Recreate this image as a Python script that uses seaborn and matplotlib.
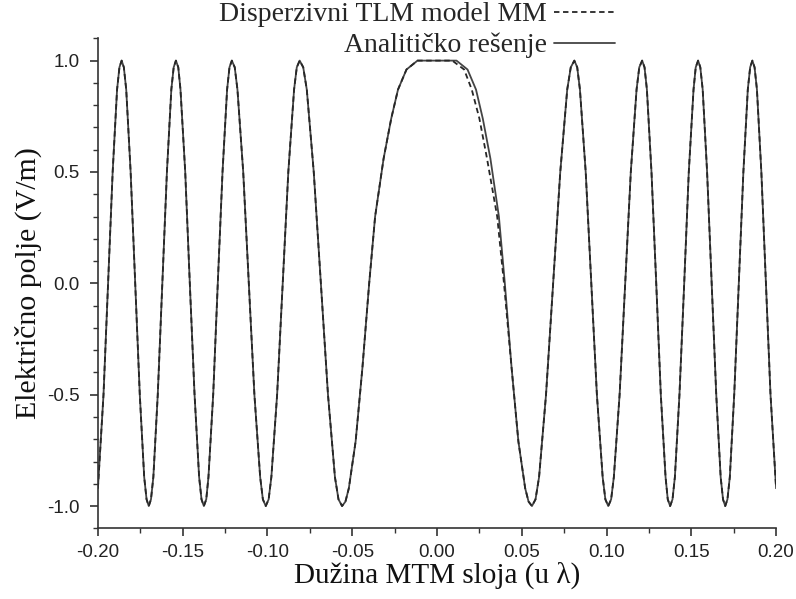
import numpy as np
import pandas as pd
import seaborn as sns
import matplotlib.pyplot as plt
from matplotlib.ticker import MultipleLocator

# values
# outer oscillations, left of the MTM layer
x_left = [-0.2000, -0.1967, -0.1940, -0.1913, -0.1887, -0.1873, -0.1860,
          -0.1847, -0.1833, -0.1807, -0.1780, -0.1753, -0.1727, -0.1713, -0.1700,
          -0.1687, -0.1673, -0.1647, -0.1620, -0.1593, -0.1567, -0.1553, -0.1540,
          -0.1526, -0.1513, -0.1485, -0.1458, -0.1430, -0.1403, -0.1389, -0.1375,
          -0.1361, -0.1348, -0.1320, -0.1293, -0.1265, -0.1238, -0.1224, -0.1210,
          -0.1193, -0.1177, -0.1143, -0.1110, -0.1077, -0.1043, -0.1027, -0.1010,
          -0.0993, -0.0977, -0.0943, -0.0910, -0.0877, -0.0843, -0.0827, -0.0810,
          -0.0789, -0.0768, -0.0727, -0.0685, -0.0643, -0.0602, -0.0581, -0.0560]
y_left = [-0.92, -0.50, 0.00, 0.50, 0.87, 0.97, 1.00,
          0.97, 0.87, 0.50, 0.00, -0.50, -0.87, -0.97, -1.00,
          -0.97, -0.87, -0.50, 0.00, 0.50, 0.87, 0.97, 1.00,
          0.97, 0.87, 0.50, 0.00, -0.50, -0.87, -0.97, -1.00,
          -0.97, -0.87, -0.50, 0.00, 0.50, 0.87, 0.97, 1.00,
          0.97, 0.87, 0.50, 0.00, -0.50, -0.87, -0.97, -1.00,
          -0.97, -0.87, -0.50, 0.00, 0.50, 0.87, 0.97, 1.00,
          0.97, 0.87, 0.50, 0.00, -0.50, -0.87, -0.97, -1.00]

# central lobe (inside the layer)
x_center = [-0.0540, -0.0520, -0.0480, -0.0440, -0.0400, -0.0365, -0.0315,
            -0.0270, -0.0230, -0.0180, -0.0115, 0.0000, 0.0115, 0.0180,
            0.0230, 0.0270, 0.0315, 0.0365, 0.0400, 0.0440, 0.0480,
            0.0520, 0.0540]
x_center_tlm = [-0.0540, -0.0520, -0.0480, -0.0440, -0.0400, -0.0365, -0.0315,
                -0.0270, -0.0230, -0.0180, -0.0115, 0.0000, 0.0090, 0.0160,
                0.0205, 0.0250, 0.0295, 0.0355, 0.0395, 0.0440, 0.0480,
                0.0520, 0.0540]
y_center = [-0.98, -0.92, -0.71, -0.38, 0.00, 0.30, 0.56,
            0.74, 0.87, 0.96, 1.00, 1.00, 1.00, 0.96,
            0.87, 0.74, 0.56, 0.30, 0.00, -0.38, -0.71,
            -0.92, -0.98]

# outer oscillations, right of the MTM layer
x_right = [0.0560,
           0.0581, 0.0602, 0.0643, 0.0685, 0.0727, 0.0768, 0.0789, 0.0810,
           0.0827, 0.0843, 0.0877, 0.0910, 0.0943, 0.0977, 0.0993, 0.1010,
           0.1027, 0.1043, 0.1077, 0.1110, 0.1143, 0.1177, 0.1193, 0.1210,
           0.1224, 0.1238, 0.1265, 0.1293, 0.1320, 0.1348, 0.1361, 0.1375,
           0.1389, 0.1403, 0.1430, 0.1458, 0.1485, 0.1513, 0.1526, 0.1540,
           0.1553, 0.1567, 0.1593, 0.1620, 0.1647, 0.1673, 0.1687, 0.1700,
           0.1713, 0.1727, 0.1753, 0.1780, 0.1807, 0.1833, 0.1847, 0.1860,
           0.1873, 0.1887, 0.1913, 0.1940, 0.1967, 0.2000]
y_right = [-1.00,
           -0.97, -0.87, -0.50, 0.00, 0.50, 0.87, 0.97, 1.00,
           0.97, 0.87, 0.50, 0.00, -0.50, -0.87, -0.97, -1.00,
           -0.97, -0.87, -0.50, 0.00, 0.50, 0.87, 0.97, 1.00,
           0.97, 0.87, 0.50, 0.00, -0.50, -0.87, -0.97, -1.00,
           -0.97, -0.87, -0.50, 0.00, 0.50, 0.87, 0.97, 1.00,
           0.97, 0.87, 0.50, 0.00, -0.50, -0.87, -0.97, -1.00,
           -0.97, -0.87, -0.50, 0.00, 0.50, 0.87, 0.97, 1.00,
           0.97, 0.87, 0.50, 0.00, -0.50, -0.92]

x_ticks = [-0.20, -0.15, -0.10, -0.05, 0.00, 0.05, 0.10, 0.15, 0.20]
y_ticks = [-1.0, -0.5, 0.0, 0.5, 1.0]

df_tlm = pd.DataFrame({'x': x_left + x_center_tlm + x_right,
                       'E': y_left + y_center + y_right})
df_an = pd.DataFrame({'x': x_left + x_center + x_right,
                      'E': y_left + y_center + y_right})

sns.set_style('ticks')
plt.rcParams['axes.unicode_minus'] = False

fig = plt.figure(figsize=(7.96, 5.99), dpi=100)
ax = fig.add_axes([0.123, 0.118, 0.852, 0.818])

# analytic: light grey solid underneath, TLM: dark dashes on top
sns.lineplot(data=df_an, x='x', y='E', ax=ax, sort=False, estimator=None,
             color='#8a8a8a', lw=1.7, label='Analitičko rešenje')
sns.lineplot(data=df_tlm, x='x', y='E', ax=ax, sort=False, estimator=None,
             color='#262626', lw=1.3, linestyle=(0, (3, 2)),
             label='Disperzivni TLM model MM')

ax.set_xlim(-0.2, 0.2)
ax.set_ylim(-1.1, 1.1)
ax.set_xticks(x_ticks)
ax.set_xticklabels([f'{t:.2f}' for t in x_ticks])
ax.set_yticks(y_ticks)
ax.set_yticklabels([f'{t:.1f}' for t in y_ticks])
ax.xaxis.set_minor_locator(MultipleLocator(0.025))
ax.yaxis.set_minor_locator(MultipleLocator(0.1))
ax.tick_params(which='major', direction='out', length=6, width=1.2,
               labelsize=13.5, labelcolor='#222222', color='#333333')
ax.tick_params(axis='x', which='major', pad=5)
ax.tick_params(axis='y', which='major', pad=7)
ax.tick_params(which='minor', direction='out', length=3.5, width=1.0,
               color='#333333')
for t in ax.get_xticklabels() + ax.get_yticklabels():
    t.set_fontfamily('Liberation Sans')

sns.despine(ax=ax)
for s in ['left', 'bottom']:
    ax.spines[s].set_linewidth(1.2)
    ax.spines[s].set_color('#333333')

ax.set_xlabel('Dužina MTM sloja (u λ)', fontsize=21, family='Liberation Serif',
              color='#111111', labelpad=1)
ax.set_ylabel('Električno polje (V/m)', fontsize=21.5, family='Liberation Serif',
              color='#111111', labelpad=4)

handles, labels = ax.get_legend_handles_labels()
handles[0].set_color('#444444')
handles[0].set_linewidth(1.3)
leg = ax.legend(handles[::-1], labels[::-1], loc='upper right',
                bbox_to_anchor=(0.79, 1.02), bbox_transform=fig.transFigure,
                frameon=False, markerfirst=False,
                prop={'family': 'Liberation Serif', 'size': 20},
                handlelength=2.2, handletextpad=0.25, borderpad=0.0,
                labelspacing=0.2)

fig.savefig('out.png', dpi=100)
